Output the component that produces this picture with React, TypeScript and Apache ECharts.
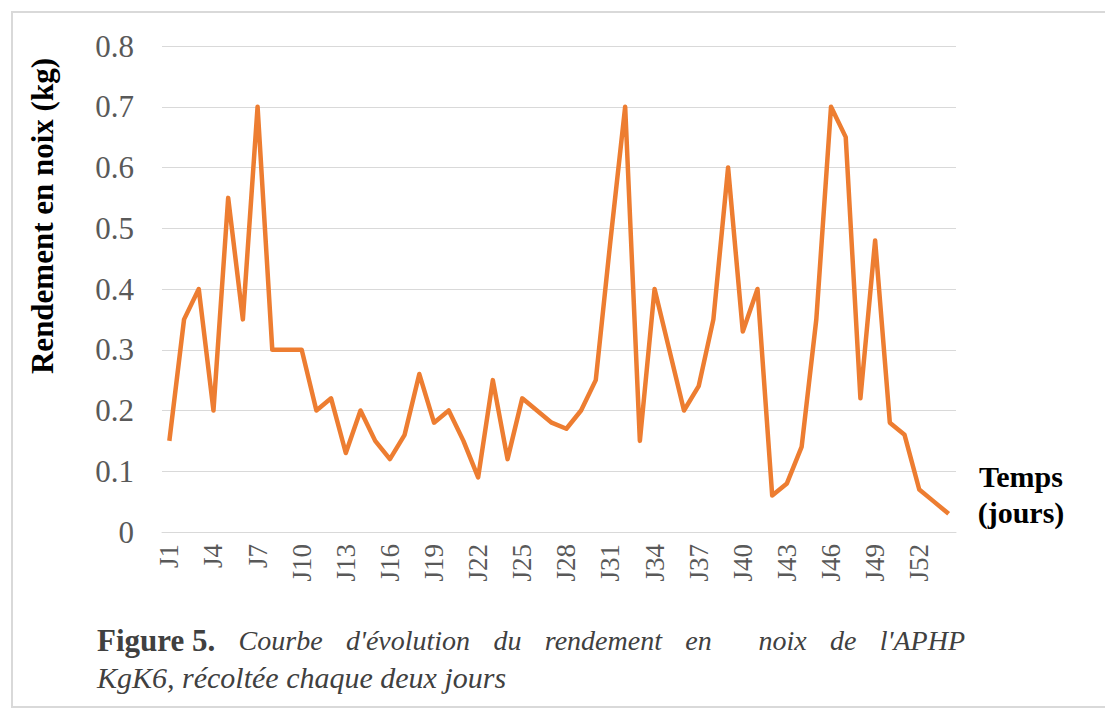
import React, { useEffect, useRef } from "react";
import * as echarts from "echarts";

// Harvest days J1..J54 (one harvest every two days)
const days: string[] = Array.from({ length: 54 }, (_, i) => `J${i + 1}`);

// Nut yield per harvest (kg)
const yieldKg: number[] = [
  0.15, 0.35, 0.4, 0.2, 0.55, 0.35, 0.7, 0.3, 0.3, 0.3,
  0.2, 0.22, 0.13, 0.2, 0.15, 0.12, 0.16, 0.26, 0.18, 0.2,
  0.15, 0.09, 0.25, 0.12, 0.22, 0.2, 0.18, 0.17, 0.2, 0.25,
  0.48, 0.7, 0.15, 0.4, 0.3, 0.2, 0.24, 0.35, 0.6, 0.33,
  0.4, 0.06, 0.08, 0.14, 0.35, 0.7, 0.65, 0.22, 0.48, 0.18,
  0.16, 0.07, 0.05, 0.03,
];

const yTitle = "Rendement en noix (kg)";
const xTitle = "Temps\n(jours)";
const captionLabel = "Figure 5.";
// First caption line is justified between two margins
const captionWords: string[] = [
  "Courbe", "d'évolution", "du", "rendement", "en", "noix", "de", "l'APHP",
];
// Relative width of the gap before each word (the source text has a double space before "noix")
const captionGapWeight: number[] = [1, 1, 1, 1, 1, 2, 1, 1];
const captionLine2 = "KgK6, récoltée chaque deux jours";

const SERIF = "'Liberation Serif', 'Times New Roman', serif";
const CAPTION_COLOR = "#404040";
const LABEL_FONT = `bold 31px ${SERIF}`;
const WORD_FONT = `italic 28px ${SERIF}`;
const CAPTION_LEFT = 97;
const CAPTION_RIGHT = 965;

function measure(text: string, font: string): number {
  const ctx = document.createElement("canvas").getContext("2d");
  if (!ctx) return text.length * 12;
  ctx.font = font;
  return ctx.measureText(text).width;
}

export default function App() {
  const ref = useRef<HTMLDivElement>(null);

  useEffect(() => {
    if (!ref.current) return;
    const chart = echarts.init(ref.current, undefined, { renderer: "svg" });

    // Lay out the justified first caption line
    const labelW = measure(captionLabel, LABEL_FONT);
    const wordW = captionWords.map((w) => measure(w, WORD_FONT));
    const used = labelW + wordW.reduce((a, b) => a + b, 0);
    const weightSum = captionGapWeight.reduce((a, b) => a + b, 0);
    const unitGap = (CAPTION_RIGHT - CAPTION_LEFT - used) / weightSum;
    let cursor = CAPTION_LEFT + labelW;
    const captionGraphics = captionWords.map((w, i) => {
      cursor += unitGap * captionGapWeight[i];
      const x = cursor;
      cursor += wordW[i];
      return {
        type: "text",
        x,
        y: 640,
        style: {
          text: w,
          font: WORD_FONT,
          fill: CAPTION_COLOR,
          verticalAlign: "middle",
        },
      };
    });

    chart.setOption({
      animation: false,
      backgroundColor: "#ffffff",
      grid: { left: 162, right: 149, top: 46, bottom: 178, containLabel: false },
      xAxis: {
        type: "category",
        data: days,
        boundaryGap: true,
        axisLine: { show: true, lineStyle: { color: "#d9d9d9", width: 1 } },
        axisTick: { show: false },
        axisLabel: {
          interval: 2,
          rotate: 90,
          margin: 12,
          color: "#595959",
          fontFamily: SERIF,
          fontSize: 27,
        },
      },
      yAxis: {
        type: "value",
        min: 0,
        max: 0.8,
        interval: 0.1,
        axisLine: { show: false },
        axisTick: { show: false },
        splitLine: { lineStyle: { color: "#d9d9d9", width: 1 } },
        axisLabel: {
          margin: 28,
          color: "#595959",
          fontFamily: SERIF,
          fontSize: 31,
          formatter: (v: number) => (Math.round(v * 10) / 10).toString(),
        },
      },
      series: [
        {
          type: "line",
          data: yieldKg,
          symbol: "none",
          lineStyle: { color: "#ED7D31", width: 4.5, join: "round" },
        },
      ],
      graphic: [
        {
          type: "rect",
          shape: { x: 12, y: 12, width: 1110, height: 695 },
          style: { fill: "none", stroke: "#d9d9d9", lineWidth: 2 },
          silent: true,
        },
        {
          type: "text",
          x: 42,
          y: 216,
          rotation: Math.PI / 2,
          style: {
            text: yTitle,
            fill: "#000000",
            font: `bold 31px ${SERIF}`,
            align: "center",
            verticalAlign: "middle",
          },
        },
        {
          type: "text",
          x: 1021,
          y: 494,
          style: {
            text: xTitle,
            fill: "#000000",
            font: `bold 30px ${SERIF}`,
            align: "center",
            verticalAlign: "middle",
            lineHeight: 36,
          },
        },
        {
          type: "text",
          x: CAPTION_LEFT,
          y: 640,
          style: {
            text: captionLabel,
            font: LABEL_FONT,
            fill: CAPTION_COLOR,
            verticalAlign: "middle",
          },
        },
        ...captionGraphics,
        {
          type: "text",
          x: CAPTION_LEFT,
          y: 677,
          style: {
            text: captionLine2,
            font: `italic 30px ${SERIF}`,
            fill: CAPTION_COLOR,
            verticalAlign: "middle",
          },
        },
      ],
    });
    return () => chart.dispose();
  }, []);

  return (
    <div
      ref={ref}
      style={{ position: "fixed", left: 0, top: 0, width: 1105, height: 710 }}
    />
  );
}
